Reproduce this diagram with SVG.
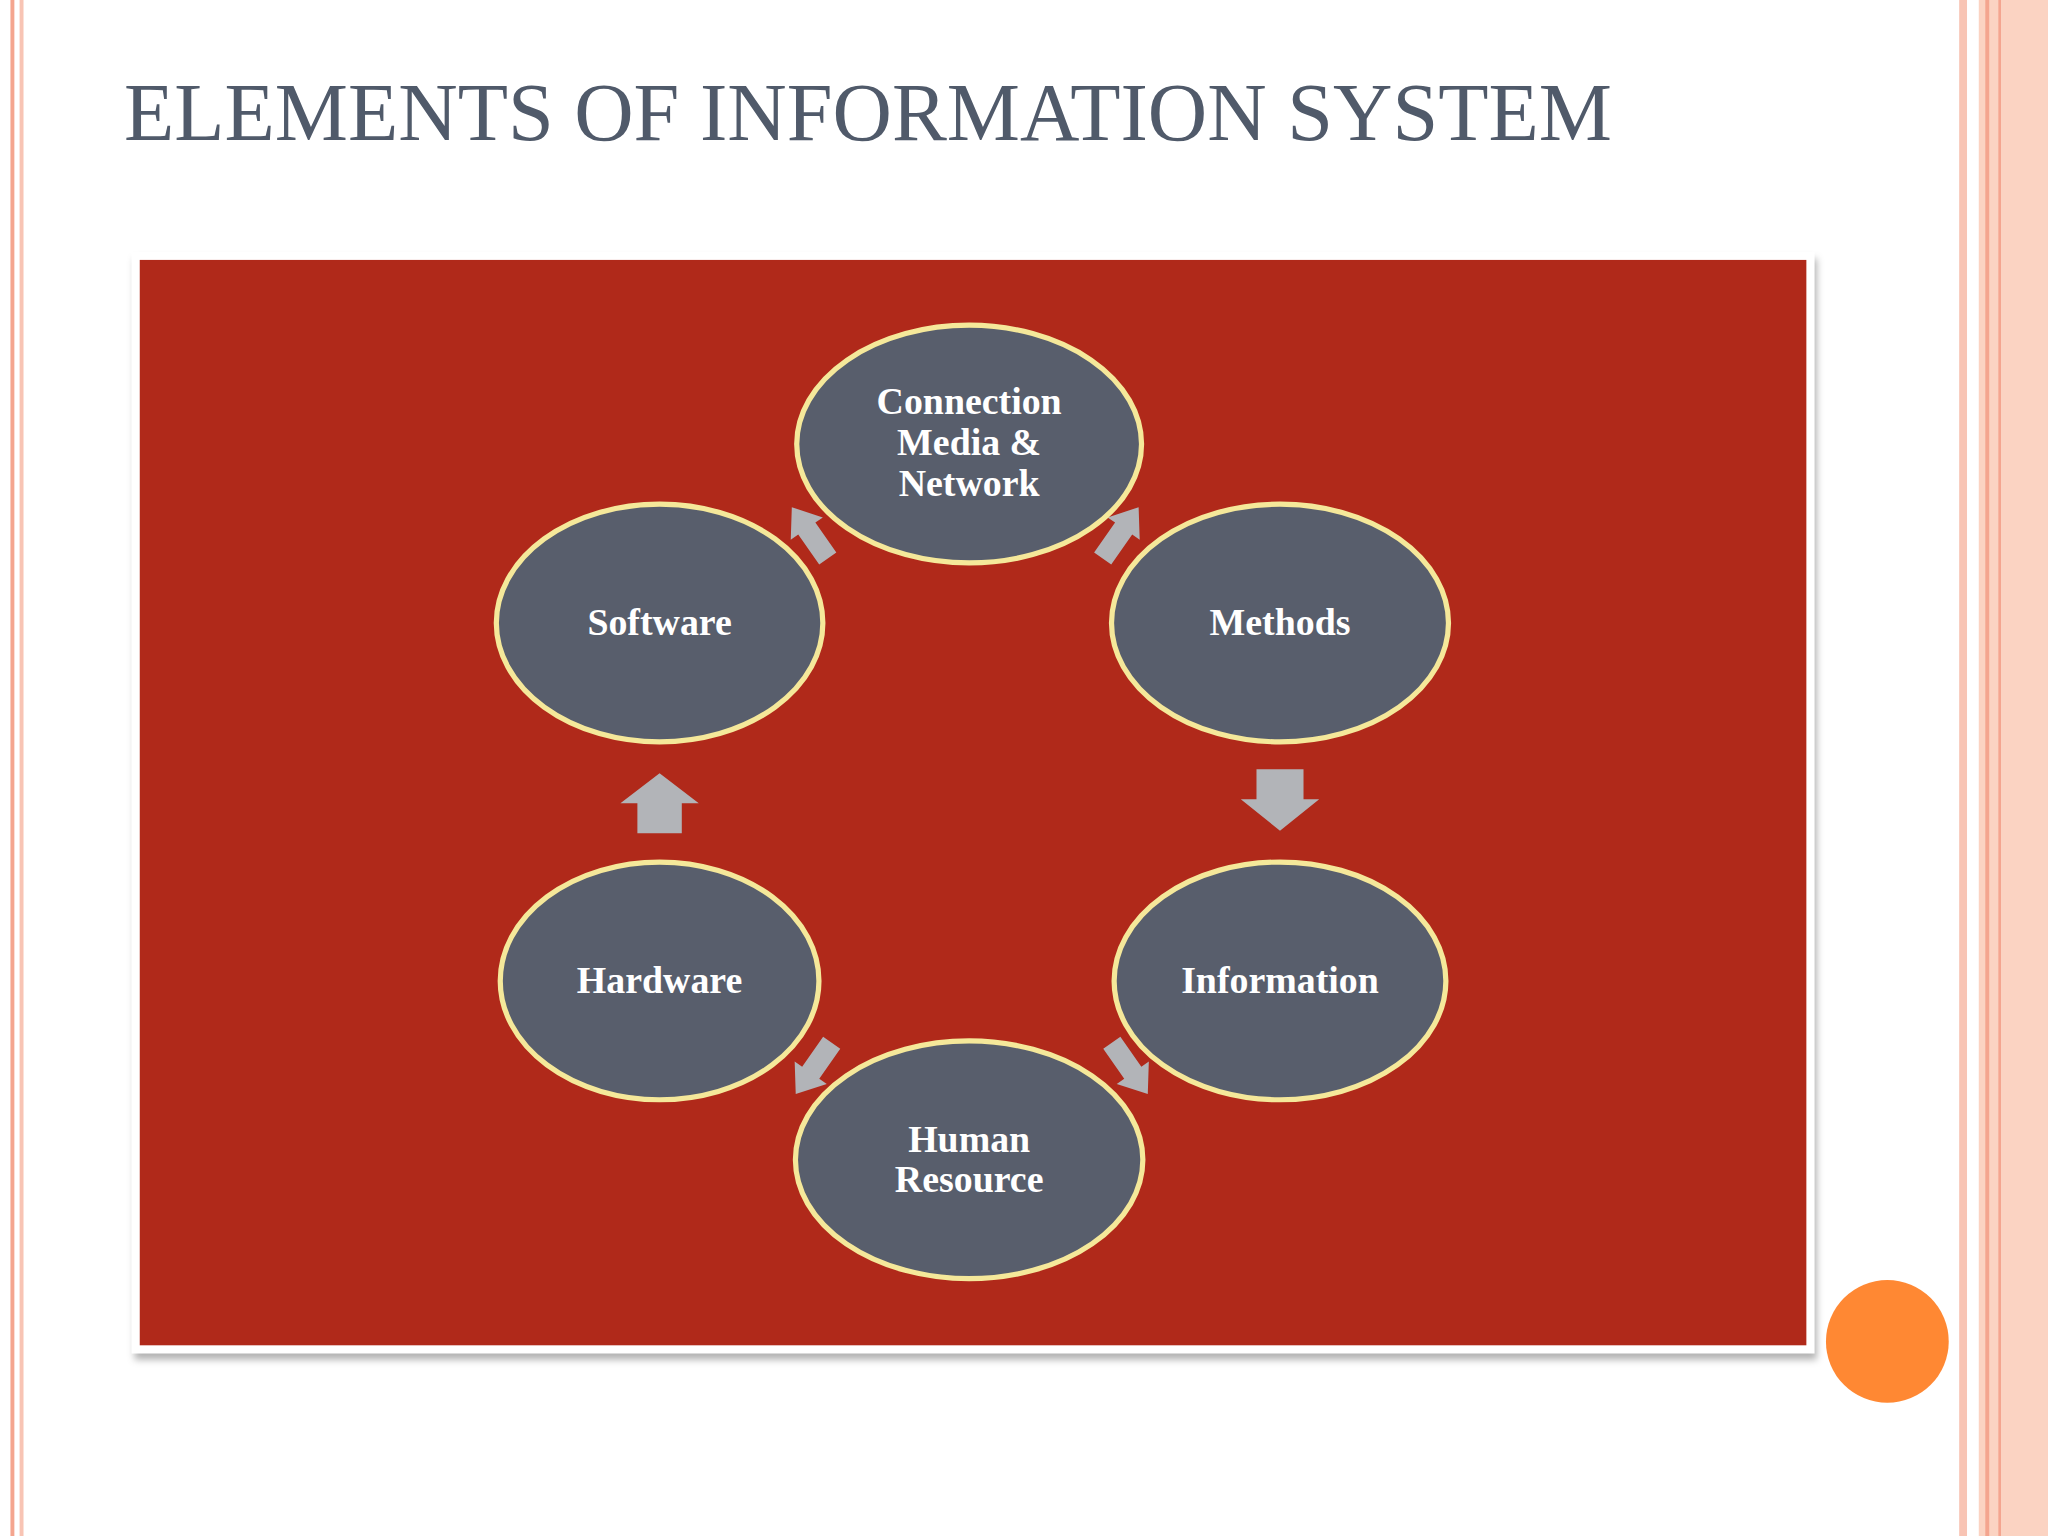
<svg xmlns="http://www.w3.org/2000/svg" width="2048" height="1536" viewBox="0 0 2048 1536">
<defs>
<style>
.n{fill:#585e6c;stroke:#f5e89a;stroke-width:4}
.t{fill:#fff;font-family:"Liberation Serif",serif;font-weight:bold;font-size:29px;text-anchor:middle}
.a{fill:#b2b4b8}
</style>
<path id="ar" d="M-24,-8 L4,-8 L4,-15 L24,0 L4,15 L4,8 L-24,8 Z"/>
<filter id="sh" x="-5%" y="-5%" width="110%" height="110%"><feDropShadow dx="2" dy="5" stdDeviation="3" flood-opacity="0.3"/></filter>
</defs>
<rect width="2048" height="1536" fill="#fff"/>
<g transform="scale(1.30612)">
<rect x="8" y="0" width="3" height="1176" fill="#f4a58f"/>
<rect x="15" y="0" width="3" height="1176" fill="#f8c4b4"/>
<rect x="1500" y="0" width="6" height="1176" fill="#f8c4b4"/>
<rect x="1515" y="0" width="53" height="1176" fill="#fbd3c2"/>
<rect x="1520" y="0" width="3" height="1176" fill="#f4a58f"/>
<rect x="1530" y="0" width="2" height="1176" fill="#f4a58f"/>
<text x="95" y="107" font-family="Liberation Serif,serif" font-size="63" fill="#505a6a">ELEMENTS OF INFORMATION SYSTEM</text>
<rect x="101" y="193" width="1288" height="843" fill="#fff" filter="url(#sh)"/>
<rect x="107" y="199" width="1276" height="831" fill="#b0291a"/>
<g id="connectors">
<polygon class="a" points="505,592 535,615 522,615 522,638 488,638 488,615 475,615"/>
<polygon class="a" points="962,589 998,589 998,612 1010,612 980,636 950,612 962,612"/>
<use href="#ar" class="a" transform="translate(620,408) rotate(-125)"/>
<use href="#ar" class="a" transform="translate(858,408) rotate(-55)"/>
<use href="#ar" class="a" transform="translate(865,818) rotate(55)"/>
<use href="#ar" class="a" transform="translate(623,818) rotate(125)"/>
</g>
<g id="connection"><ellipse class="n" cx="742" cy="340" rx="132" ry="91"/><text class="t" x="742" y="317">Connection</text><text class="t" x="742" y="348">Media &amp;</text><text class="t" x="742" y="380">Network</text></g>
<g id="software"><ellipse class="n" cx="505" cy="477" rx="125" ry="91"/><text class="t" x="505" y="486">Software</text></g>
<g id="methods"><ellipse class="n" cx="980" cy="477" rx="129" ry="91"/><text class="t" x="980" y="486">Methods</text></g>
<g id="hardware"><ellipse class="n" cx="505" cy="751" rx="122" ry="91"/><text class="t" x="505" y="760">Hardware</text></g>
<g id="information"><ellipse class="n" cx="980" cy="751" rx="127" ry="91"/><text class="t" x="980" y="760">Information</text></g>
<g id="human"><ellipse class="n" cx="742" cy="888" rx="133" ry="91"/><text class="t" x="742" y="882">Human</text><text class="t" x="742" y="913">Resource</text></g>
<circle cx="1445" cy="1027" r="47" fill="#ff8833"/>
</g>
</svg>
